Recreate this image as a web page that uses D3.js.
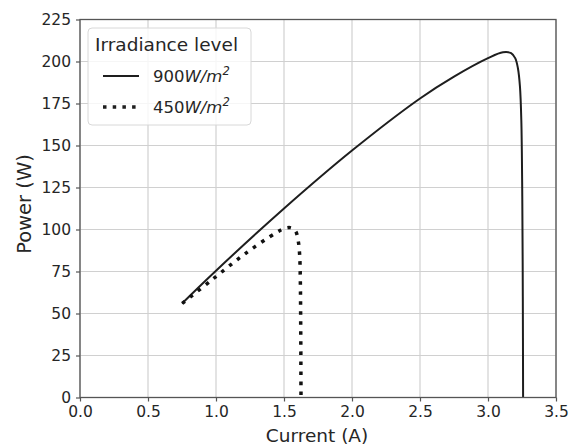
<!DOCTYPE html>
<html><head><meta charset="utf-8">
<script src="https://cdn.jsdelivr.net/npm/d3@7/dist/d3.min.js"></script>
<style>body{margin:0;background:#fff}svg{display:block}text{font-family:"DejaVu Sans",sans-serif;fill:#262626}</style>
</head><body><svg id="c" width="574" height="447"></svg>
<script>
const current900 = [0.75, 1.0, 1.5, 2.0, 2.5, 2.75, 3.0, 3.11, 3.17, 3.2, 3.22, 3.235, 3.245, 3.252, 3.256, 3.258];
const power900   = [56, 75.5, 112.5, 147, 178, 191, 202, 205.5, 205, 202, 196, 185, 165, 120, 60, 0];
const current450 = [0.752, 0.98, 1.211, 1.446, 1.507, 1.55, 1.585, 1.605, 1.615, 1.62, 1.623, 1.625];
const power450   = [56, 70.7, 85.4, 98.3, 100.7, 101, 99, 93, 85, 70, 40, 0];
const xTicks = [0.0, 0.5, 1.0, 1.5, 2.0, 2.5, 3.0, 3.5];
const yTicks = [0, 25, 50, 75, 100, 125, 150, 175, 200, 225];
const legendTitle = "Irradiance level";
const seriesLabels = ["900", "450"];

const svg = d3.select("#c");
const L = 80, R = 556, T = 19.5, B = 397.5;
const x = d3.scaleLinear().domain([0, 3.5]).range([L, R]);
const y = d3.scaleLinear().domain([0, 225]).range([B, T]);

// grid
const g = svg.append("g");
g.selectAll(".gx").data(xTicks).enter().append("line")
  .attr("x1", d => x(d)).attr("x2", d => x(d)).attr("y1", T).attr("y2", B)
  .attr("stroke", "#d0d0d0").attr("stroke-width", 1.2);
g.selectAll(".gy").data(yTicks).enter().append("line")
  .attr("y1", d => y(d)).attr("y2", d => y(d)).attr("x1", L).attr("x2", R)
  .attr("stroke", "#d0d0d0").attr("stroke-width", 1.2);

// axes
const xa = svg.append("g").attr("transform", `translate(0,${B})`)
  .call(d3.axisBottom(x).tickValues(xTicks).tickFormat(d3.format(".1f")).tickSize(4).tickPadding(4));
const ya = svg.append("g").attr("transform", `translate(${L},0)`)
  .call(d3.axisLeft(y).tickValues(yTicks).tickSize(4).tickPadding(5));
[xa, ya].forEach(a => {
  a.select(".domain").remove();
  a.selectAll("line").attr("stroke", "#555").attr("stroke-width", 1.2);
  a.selectAll("text").style("font-size", "15.5px").style("font-family", "DejaVu Sans").attr("fill", "#262626");
});

// lines
const line = d3.line().x(d => x(d[0])).y(d => y(d[1])).curve(d3.curveCatmullRom.alpha(0.5));
svg.append("path").datum(d3.zip(current900, power900)).attr("d", line)
  .attr("fill", "none").attr("stroke", "#1e1e1e").attr("stroke-width", 2);
svg.append("path").datum(d3.zip(current450, power450)).attr("d", line)
  .attr("fill", "none").attr("stroke", "#111").attr("stroke-width", 3.5)
  .attr("stroke-dasharray", "3.5,6.5");

// frame
svg.append("rect").attr("x", L).attr("y", T).attr("width", R - L).attr("height", B - T)
  .attr("fill", "none").attr("stroke", "#555").attr("stroke-width", 1.3);

// axis labels
svg.append("text").attr("x", 317).attr("y", 442).attr("text-anchor", "middle")
  .style("font-size", "18.5px").text("Current (A)");
svg.append("text").attr("transform", `translate(31,204) rotate(-90)`).attr("text-anchor", "middle")
  .style("font-size", "19.5px").text("Power (W)");

// legend
const lg = svg.append("g");
lg.append("rect").attr("x", 88).attr("y", 28).attr("width", 163).attr("height", 97).attr("rx", 4)
  .attr("fill", "#fff").attr("fill-opacity", 0.8).attr("stroke", "#d8d8d8").attr("stroke-width", 1);
lg.append("text").attr("x", 95).attr("y", 51).style("font-size", "18.5px").text(legendTitle);
const entries = [{lab: seriesLabels[0], y: 76, dash: null, w: 2}, {lab: seriesLabels[1], y: 107, dash: "3.5,6.2", w: 3.5}];
entries.forEach(e => {
  lg.append("line").attr("x1", 103).attr("x2", 139).attr("y1", e.y).attr("y2", e.y)
    .attr("stroke", "#1e1e1e").attr("stroke-width", e.w).attr("stroke-dasharray", e.dash);
  const t = lg.append("text").attr("x", 153).attr("y", e.y + 6).style("font-size", "16.5px");
  t.append("tspan").text(e.lab);
  t.append("tspan").style("font-style", "italic").text("W/m");
  t.append("tspan").attr("dy", -7).style("font-size", "11.5px").style("font-style", "italic").text("2");
});
</script></body></html>
